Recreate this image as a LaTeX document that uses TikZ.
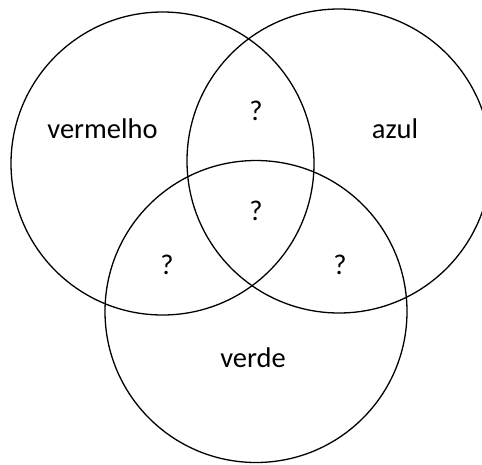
\documentclass[tikz,border=0pt]{standalone}
\usepackage{fontspec}
\setmainfont{Carlito}
\begin{document}
\begin{tikzpicture}[x=1pt,y=-1pt,
  ring/.style={circle,draw,line width=1.3pt,minimum size=#1,inner sep=0pt},
  lbl/.style={anchor=base,inner sep=0pt,font=\fontsize{28.5}{34}\selectfont}]
\useasboundingbox (0,0) rectangle (482,464);
\clip (0,0) rectangle (482,464);
\node[ring=303pt] (red) at (162.5,163.5) {};
\node[ring=304pt] (blue) at (339,161) {};
\node[ring=302pt] (green) at (256,311.5) {};
\node[lbl] (tred) at (102.5,138) {vermelho};
\node[lbl] (tblue) at (395,138) {azul};
\node[lbl] (tgreen) at (253,367) {verde};
\node[lbl] (qrb) at (256,120) {?};
\node[lbl] (qall) at (256,220) {?};
\node[lbl] (qrg) at (167,274) {?};
\node[lbl] (qbg) at (340,274) {?};
\end{tikzpicture}
\end{document}
